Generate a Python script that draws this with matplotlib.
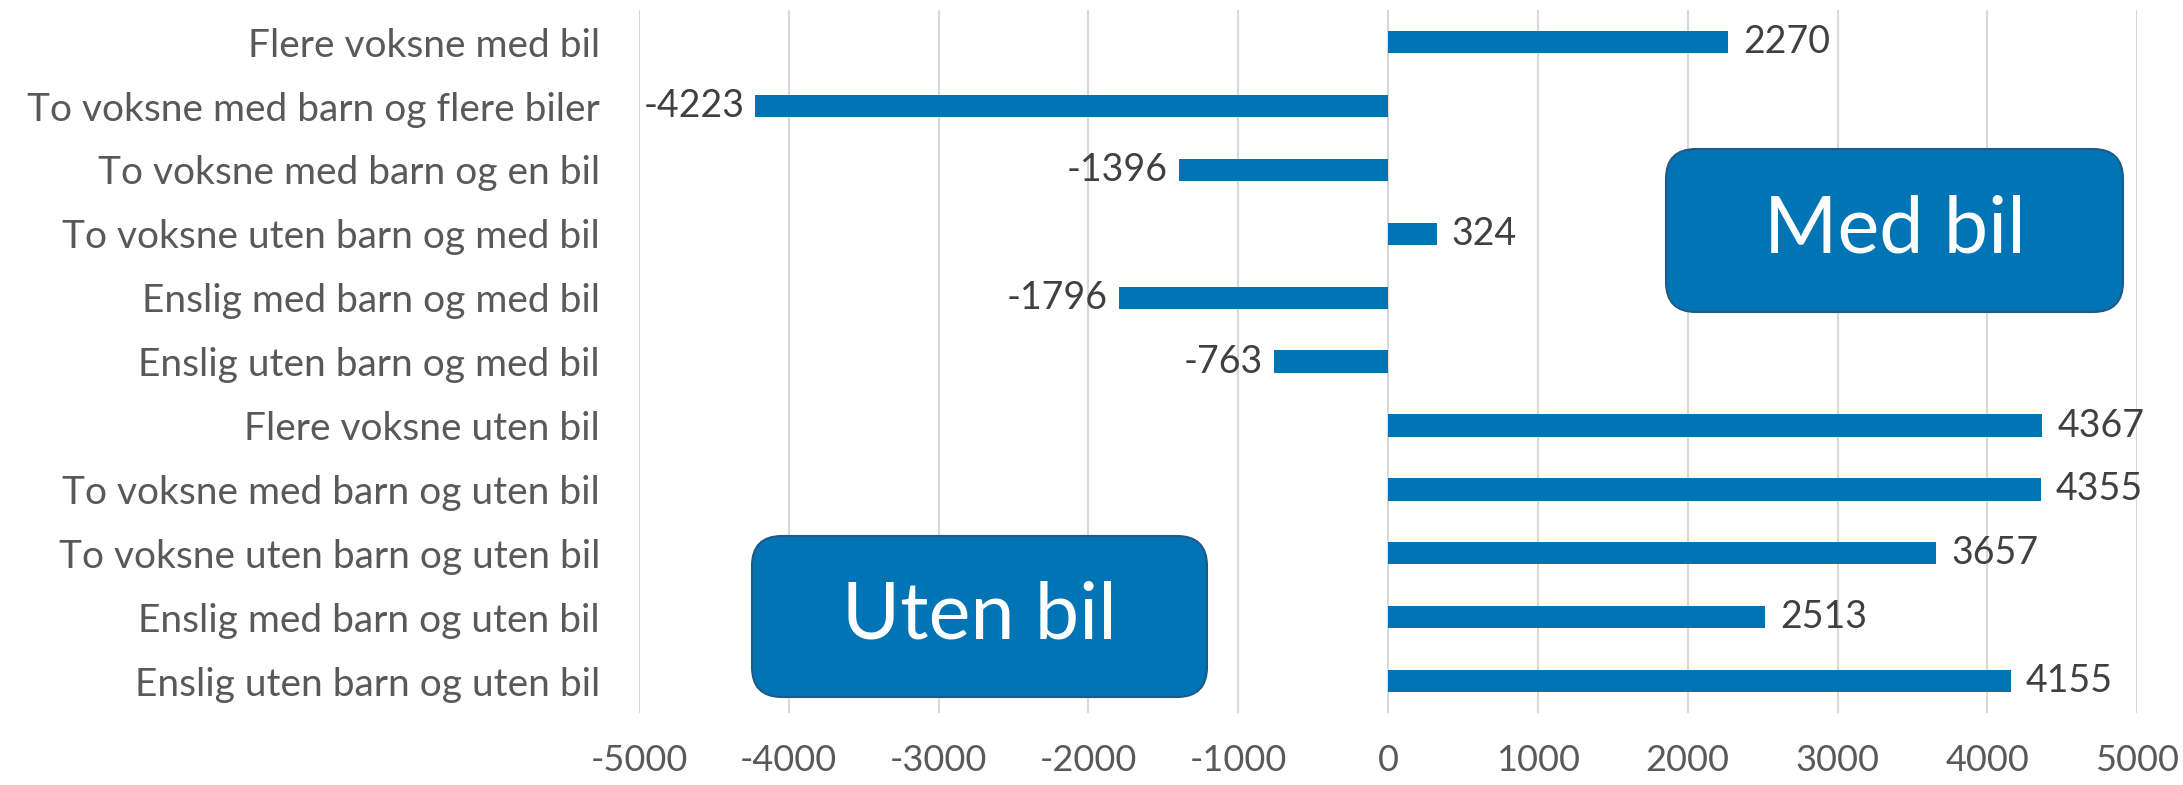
import matplotlib.pyplot as plt
from matplotlib.patches import FancyBboxPatch

categories = [
    "Flere voksne med bil",
    "To voksne med barn og flere biler",
    "To voksne med barn og en bil",
    "To voksne uten barn og med bil",
    "Enslig med barn og med bil",
    "Enslig uten barn og med bil",
    "Flere voksne uten bil",
    "To voksne med barn og uten bil",
    "To voksne uten barn og uten bil",
    "Enslig med barn og uten bil",
    "Enslig uten barn og uten bil",
]
values = [2270, -4223, -1396, 324, -1796, -763, 4367, 4355, 3657, 2513, 4155]
x_ticks = [-5000, -4000, -3000, -2000, -1000, 0, 1000, 2000, 3000, 4000, 5000]

BLUE = "#0174b6"
TEXT = "#595959"
plt.rcParams["font.family"] = ["Lato", "DejaVu Sans"]

fig = plt.figure(figsize=(21.83, 7.85), dpi=100)
ax = fig.add_axes([0.2927, 0.0917, 0.6863, 0.8953])

y = list(range(len(categories)))
ax.barh(y, values, height=0.35, color=BLUE, zorder=3)

# data labels
for yi, v in zip(y, values):
    if v >= 0:
        ax.annotate(str(v), (v, yi), xytext=(11, 0), textcoords="offset points",
                    ha="left", va="center", fontsize=27, color="#404040")
    else:
        ax.annotate(str(v), (v, yi), xytext=(-8, 0), textcoords="offset points",
                    ha="right", va="center", fontsize=27, color="#404040")

ax.set_xlim(-5000, 5000)
ax.set_ylim(len(categories) - 0.5, -0.5)
ax.set_xticks(x_ticks)
ax.set_xticklabels([str(t) for t in x_ticks], fontsize=26, color=TEXT)
ax.set_yticks(y)
ax.set_yticklabels(categories, fontsize=28, color=TEXT)
ax.tick_params(length=0, axis="x", pad=22)
ax.tick_params(length=0, axis="y", pad=28)
ax.grid(axis="x", color="#d9d9d9", linewidth=1.5, zorder=0)
for s in ax.spines.values():
    s.set_visible(False)

# tekstbokser (tommer)
def box(x0, y0, w, h, label):
    p = FancyBboxPatch((x0, y0), w, h, boxstyle="round,pad=0,rounding_size=0.3",
                       transform=fig.dpi_scale_trans, facecolor=BLUE,
                       edgecolor="#1f5a86", linewidth=1.5, zorder=5)
    fig.patches.append(p)
    fig.text((x0 + w / 2) / 21.83, (y0 + h / 2) / 7.85, label, ha="center",
             va="center", fontsize=57, color="white", zorder=6)

box(16.66, 4.73, 4.57, 1.63, "Med bil")
box(7.52, 0.88, 4.55, 1.61, "Uten bil")

fig.savefig("out.png", dpi=100)
